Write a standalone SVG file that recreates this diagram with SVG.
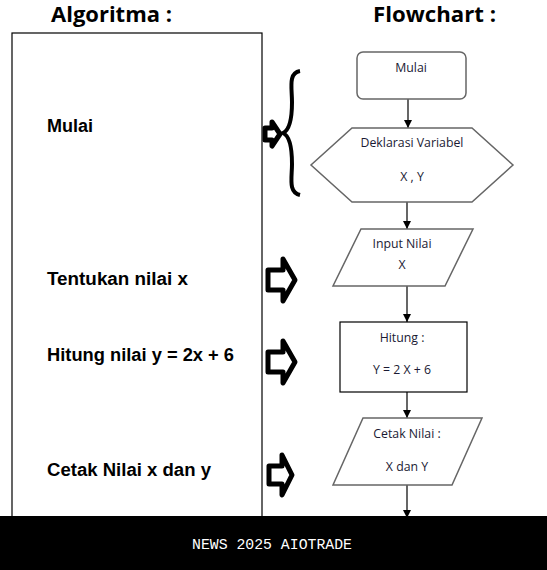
<svg xmlns="http://www.w3.org/2000/svg" width="547" height="570" viewBox="0 0 547 570">
<style>
.title{font-family:"Open Sans","Liberation Sans",sans-serif;font-weight:bold;font-size:20.5px;fill:#000}
.alg{font-family:"Liberation Sans",Arial,sans-serif;font-weight:bold;font-size:18px;fill:#000}
.fc{font-family:"Open Sans","Liberation Sans",sans-serif;font-size:12.3px;fill:#1a1a33;text-anchor:middle}
.node{fill:#fff;stroke:#666;stroke-width:1.5}
.conn{stroke:#000;stroke-width:1.2;fill:none}
.barrow{fill:#fff;stroke:#000;stroke-width:5;stroke-linejoin:round}
</style>
<defs>
<marker id="ah" markerWidth="10" markerHeight="10" refX="9" refY="5" orient="auto" markerUnits="userSpaceOnUse">
<path d="M1,1 L9,5 L1,9 Z" fill="#000"/>
</marker>
</defs>
<rect width="547" height="570" fill="#fff"/>
<g id="titles">
<text class="title" x="51" y="22" textLength="121" lengthAdjust="spacingAndGlyphs">Algoritma :</text>
<text class="title" x="373" y="22" textLength="123" lengthAdjust="spacingAndGlyphs">Flowchart :</text>
</g>
<g id="algoritma">
<rect x="12" y="33" width="250" height="500" fill="#fff" stroke="#000" stroke-width="1.2"/>
<text class="alg" x="47" y="132">Mulai</text>
<text class="alg" x="47" y="285" textLength="141" lengthAdjust="spacingAndGlyphs">Tentukan nilai x</text>
<text class="alg" x="47" y="361" textLength="187" lengthAdjust="spacingAndGlyphs">Hitung nilai y = 2x + 6</text>
<text class="alg" x="47" y="476" textLength="164" lengthAdjust="spacingAndGlyphs">Cetak Nilai x dan y</text>
</g>
<g id="pointers">
<path class="barrow" d="M265,128 L272,128 L272,122 L280,134 L272,146 L272,140 L265,140 Z"/>
<path d="M300,71 C288,73 292,88 292,102 C292,118 290,130 283,133 C290,136 292,148 292,164 C292,178 288,192 300,195" fill="none" stroke="#000" stroke-width="4"/>
<path class="barrow" d="M268,270 L283,270 L283,259 L295,280 L283,301 L283,290 L268,290 Z"/>
<path class="barrow" d="M268,352 L283,352 L283,341 L295,362 L283,383 L283,372 L268,372 Z"/>
<path class="barrow" d="M269,466 L282,466 L282,455 L292,475 L282,495 L282,484 L269,484 Z"/>
</g>
<g id="connectors">
<line class="conn" x1="408" y1="99" x2="408" y2="128" marker-end="url(#ah)"/>
<line class="conn" x1="407" y1="202" x2="407" y2="229" marker-end="url(#ah)"/>
<line class="conn" x1="407" y1="286" x2="407" y2="322" marker-end="url(#ah)"/>
<line class="conn" x1="407" y1="392" x2="407" y2="418" marker-end="url(#ah)"/>
<line class="conn" x1="407" y1="485" x2="407" y2="518" marker-end="url(#ah)"/>
</g>
<g id="n-mulai">
<rect class="node" x="357" y="52" width="109" height="47" rx="6"/>
<text class="fc" x="411" y="72">Mulai</text>
</g>
<g id="n-deklarasi">
<path class="node" d="M352,128 L472,128 L513,165 L472,202 L352,202 L311,165 Z" stroke="#333"/>
<text class="fc" x="412" y="147">Deklarasi Variabel</text>
<text class="fc" x="412" y="181">X , Y</text>
</g>
<g id="n-input">
<path class="node" d="M361,229 L473,229 L445,286 L333,286 Z"/>
<text class="fc" x="402" y="248">Input Nilai</text>
<text class="fc" x="402" y="269">X</text>
</g>
<g id="n-hitung">
<rect x="340" y="322" width="127" height="70" fill="#fff" stroke="#000" stroke-width="1.2"/>
<text class="fc" x="402" y="342">Hitung :</text>
<text class="fc" x="402" y="374">Y = 2 X + 6</text>
</g>
<g id="n-cetak">
<path class="node" d="M363,418 L482,418 L452,485 L333,485 Z"/>
<text class="fc" x="407" y="438">Cetak Nilai :</text>
<text class="fc" x="407" y="471">X dan Y</text>
</g>
<g id="banner">
<rect x="0" y="516" width="547" height="54" fill="#000"/>
<text x="272" y="549" font-family="'Liberation Mono','DejaVu Sans Mono',monospace" font-size="14.8" fill="#fff" text-anchor="middle">NEWS 2025 AIOTRADE</text>
</g>
</svg>
